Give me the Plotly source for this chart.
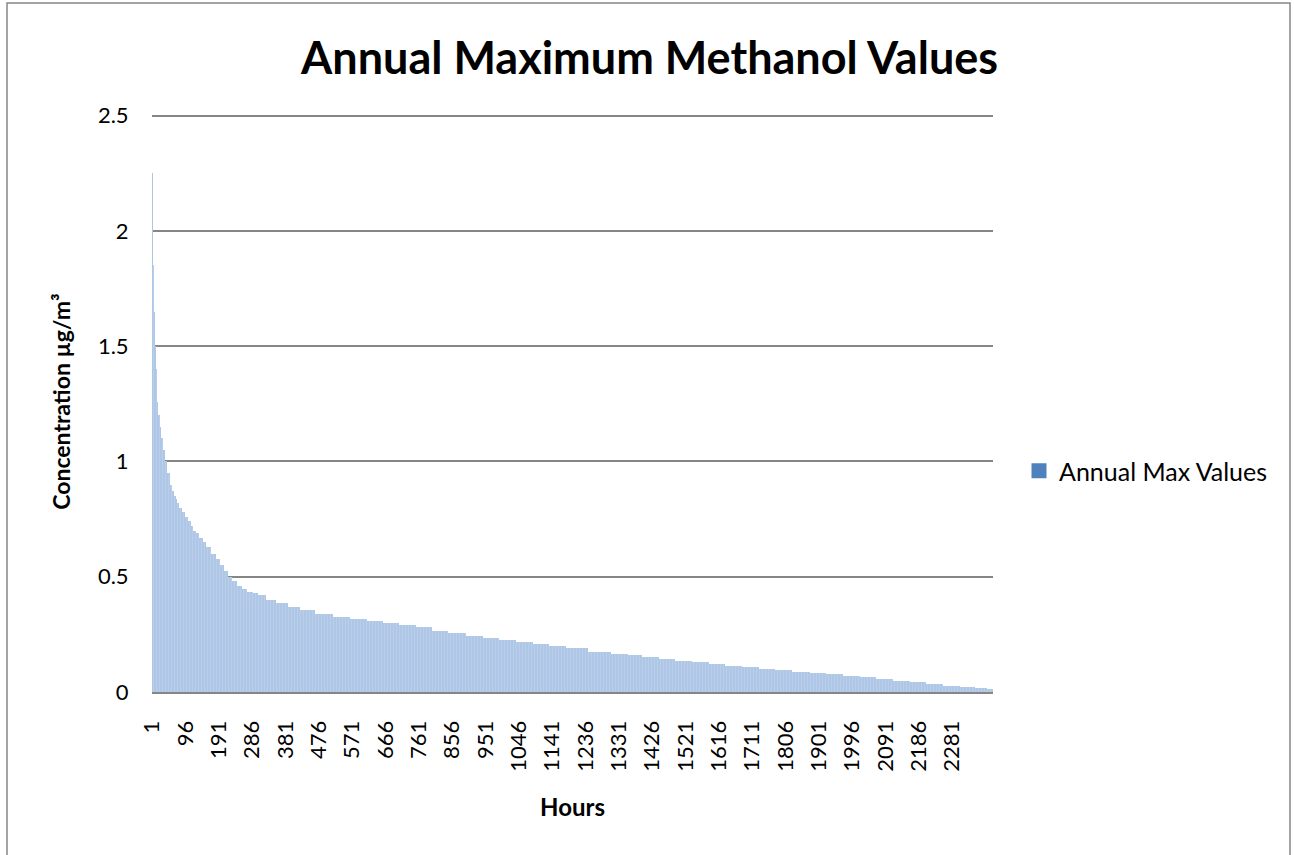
"""Annual maximum methanol values - Plotly recreation."""

import plotly.graph_objects as go

hours = [1, 2, 3, 5, 7, 9, 11, 13, 16, 20, 25, 30, 35, 41, 48, 55, 60, 65, 70,
         75, 82, 90, 100, 108, 115, 122, 130, 140, 150, 160, 175, 188, 200,
         210, 222, 236, 250, 265, 280, 295, 308, 340, 370, 405, 440, 490, 540,
         590, 635, 680, 730, 775, 820, 870, 920, 965, 1015, 1060, 1110, 1155,
         1205, 1280, 1340, 1375, 1420, 1470, 1515, 1565, 1610, 1660, 1705,
         1755, 1800, 1850, 1900, 1945, 1995, 2040, 2090, 2135, 2185, 2230,
         2280, 2325, 2365, 2397]
values = [2.25, 2.20, 1.85, 1.75, 1.65, 1.50, 1.40, 1.33, 1.26, 1.20, 1.15,
          1.10, 1.05, 1.00, 0.95, 0.90, 0.87, 0.85, 0.835, 0.82, 0.80, 0.78,
          0.76, 0.74, 0.72, 0.70, 0.69, 0.67, 0.65, 0.63, 0.60, 0.575, 0.55,
          0.525, 0.50, 0.48, 0.46, 0.445, 0.435, 0.43, 0.42, 0.40, 0.385, 0.37,
          0.356, 0.34, 0.327, 0.316, 0.308, 0.300, 0.291, 0.280, 0.266, 0.255,
          0.243, 0.235, 0.226, 0.217, 0.208, 0.199, 0.190, 0.175, 0.167, 0.161,
          0.152, 0.143, 0.136, 0.129, 0.121, 0.114, 0.107, 0.100, 0.094, 0.088,
          0.083, 0.077, 0.071, 0.064, 0.057, 0.049, 0.042, 0.035, 0.028, 0.020,
          0.016, 0.012]
n_hours = 2397
tick_hours = list(range(1, 2300, 95))

FONT = "Lato, Carlito, 'Noto Sans', sans-serif"
GRID = "#868686"

# each reading covers the hours half-way to its neighbours
edges = [0.5] + [(a + b) / 2 for a, b in zip(hours[:-1], hours[1:])] + [n_hours + 0.5]
centers = [(a + b) / 2 for a, b in zip(edges[:-1], edges[1:])]
widths = [b - a for a, b in zip(edges[:-1], edges[1:])]

fig = go.Figure()
fig.add_trace(
    go.Bar(
        x=centers,
        y=values,
        width=widths,
        showlegend=False,
        marker=dict(
            color="#AFC7E6",
            line=dict(width=0),
            pattern=dict(shape="|", fgcolor="#D6E2F2", fgopacity=0.6, size=3, solidity=0.15),
        ),
        hovertemplate="Hour %{x:.0f}<br>%{y:.3f}<extra></extra>",
    )
)
# legend entry in the plain series colour
fig.add_trace(
    go.Scatter(
        x=[None], y=[None], mode="markers", name="Annual Max Values",
        marker=dict(symbol="square", size=15, color="#4F81BD"),
    )
)

W, H = 1294, 855
Y_TOP = 2.52                      # a little headroom so the 2.5 gridline is drawn
PX_PER_UNIT = (692 - 116) / 2.5
L, R, B = 152, 993, 692
T = round(B - Y_TOP * PX_PER_UNIT)
pw, ph = R - L, B - T

fig.update_layout(
    width=W,
    height=H,
    margin=dict(l=L, r=W - R, t=T, b=H - B),
    paper_bgcolor="white",
    plot_bgcolor="white",
    bargap=0,
    font=dict(family=FONT, size=22, color="black"),
    title=dict(
        text="<b>Annual Maximum Methanol Values</b>",
        font=dict(size=45, family=FONT),
        x=0.502, xanchor="center", y=1 - 58 / H, yanchor="middle", xref="container", yref="container",
    ),
    legend=dict(
        x=(1019 - L) / pw, y=(B - 471) / ph, xanchor="left", yanchor="middle",
        font=dict(size=25), itemwidth=30, bgcolor="rgba(0,0,0,0)",
    ),
    xaxis=dict(
        range=[0.5, n_hours + 0.5],
        tickmode="array",
        tickvals=tick_hours,
        ticktext=[str(h) for h in tick_hours],
        tickangle=-90,
        tickfont=dict(size=22),
        showgrid=False,
        zeroline=False,
        showline=True,
        linecolor=GRID,
        linewidth=2,
        ticks="outside",
        ticklen=18,
        tickcolor="rgba(0,0,0,0)",
        title=dict(text="<b>Hours</b>", font=dict(size=24), standoff=28),
    ),
    yaxis=dict(
        range=[0, Y_TOP],
        tickmode="array",
        tickvals=[0, 0.5, 1, 1.5, 2, 2.5],
        ticktext=["0", "0.5", "1", "1.5", "2", "2.5"],
        showgrid=True,
        gridcolor=GRID,
        gridwidth=1.5,
        zeroline=False,
        showline=False,
        ticks="outside",
        ticklen=18,
        tickcolor="rgba(0,0,0,0)",
        tickfont=dict(size=22),
        title=dict(text="<b>Concentration µg/m³</b>", font=dict(size=23), standoff=20),
    ),
)

# outer chart frame
fig.add_shape(
    type="rect", xref="paper", yref="paper",
    x0=(7 - L) / pw, x1=(1290 - L) / pw, y0=(B - 870) / ph, y1=(B - 3) / ph,
    line=dict(color=GRID, width=1.5), fillcolor="rgba(0,0,0,0)", layer="below",
)

fig.write_html(
    "out.html",
    config={"displayModeBar": False},
    post_script="document.body.style.margin='0';",
)
